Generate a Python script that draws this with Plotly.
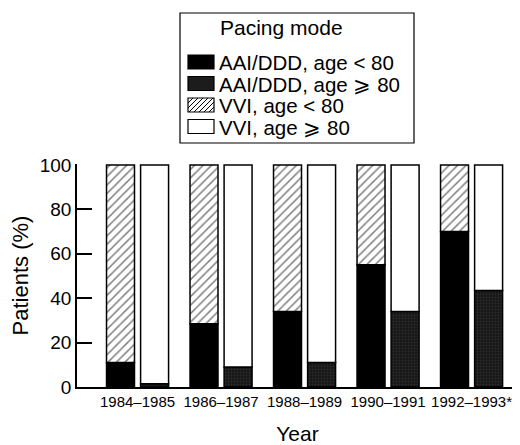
import plotly.graph_objects as go

years = ["1984–1985", "1986–1987", "1988–1989", "1990–1991", "1992–1993*"]
aai_under80 = [11, 28.5, 34, 55, 70]
aai_over80 = [1.5, 9, 11, 34, 43.5]
vvi_under80 = [100 - v for v in aai_under80]
vvi_over80 = [100 - v for v in aai_over80]
y_ticks = [0, 20, 40, 60, 80, 100]

legend_title = "Pacing mode"
legend_labels = ["AAI/DDD, age < 80", "AAI/DDD, age ⩾ 80", "VVI, age < 80", "VVI, age ⩾ 80"]

FONT = "Liberation Sans, Arial, sans-serif"
idx = list(range(len(years)))
W = 0.335
OFF = 0.204
line = dict(color="black", width=1.5)

fig = go.Figure()
fig.add_trace(go.Bar(x=idx, y=aai_under80, width=W, offset=-OFF - W / 2,
                     marker=dict(color="black", line=line)))
fig.add_trace(go.Bar(x=idx, y=vvi_under80, base=aai_under80, width=W, offset=-OFF - W / 2,
                     marker=dict(color="white", line=line,
                                 pattern=dict(shape="/", fgcolor="black", bgcolor="white",
                                              size=6, solidity=0.25))))
fig.add_trace(go.Bar(x=idx, y=aai_over80, width=W, offset=OFF - W / 2,
                     marker=dict(color="#1c1c1c", line=line,
                                 pattern=dict(shape=".", fgcolor="#454545", bgcolor="#161616",
                                              size=3, solidity=0.3))))
fig.add_trace(go.Bar(x=idx, y=vvi_over80, base=aai_over80, width=W, offset=OFF - W / 2,
                     marker=dict(color="white", line=line)))

# page has an 8px body margin; work in screen pixels and convert
OFFS = 8
FW, FH = 512, 437
ML, MT = 77 - OFFS, 164 - OFFS
MB = FH - (387 - OFFS)
MR = FW - (518 - OFFS)
PW, PH = FW - ML - MR, FH - MT - MB


def px(x):
    return (x - OFFS - ML) / PW


def py(y):
    return (FH - MB - (y - OFFS)) / PH


shapes = []
annotations = []
shapes.append(dict(type="rect", xref="paper", yref="paper", x0=px(180), x1=px(414),
                   y0=py(143), y1=py(13), line=dict(color="black", width=1.2), fillcolor="white"))
annotations.append(dict(text=legend_title, xref="paper", yref="paper", x=px(281), y=py(27),
                        showarrow=False, xanchor="center", yanchor="middle",
                        font=dict(family=FONT, size=21, color="black")))
row_y = [62, 83.5, 105, 126.5]
sw_fill = ["black", "#1c1c1c", "white", "white"]
for i, (lab, ry) in enumerate(zip(legend_labels, row_y)):
    shapes.append(dict(type="rect", xref="paper", yref="paper", x0=px(188), x1=px(214),
                       y0=py(ry + 7), y1=py(ry - 7), fillcolor=sw_fill[i],
                       line=dict(color="black", width=1.2)))
    annotations.append(dict(text=lab, xref="paper", yref="paper", x=px(218), y=py(ry + 0.5),
                            showarrow=False, xanchor="left", yanchor="middle", borderpad=0,
                            font=dict(family=FONT, size=20.5, color="black")))
# hatch lines for VVI < 80 swatch
y0s, y1s = row_y[2] + 7, row_y[2] - 7
for k in range(-14, 27, 5):
    xa, xb = 188 + k, 188 + k + 14
    ya, yb = y0s, y1s
    if xa < 188:
        ya = y0s - (188 - xa)
        xa = 188
    if xb > 214:
        yb = y1s + (xb - 214)
        xb = 214
    if xa < xb:
        shapes.append(dict(type="line", xref="paper", yref="paper", x0=px(xa), y0=py(ya),
                           x1=px(xb), y1=py(yb), line=dict(color="black", width=1)))

fig.update_layout(
    width=FW, height=FH,
    margin=dict(l=ML, r=MR, t=MT, b=MB),
    barmode="overlay",
    showlegend=False,
    plot_bgcolor="white", paper_bgcolor="white",
    font=dict(family=FONT, color="black"),
    shapes=shapes, annotations=annotations,
    xaxis=dict(range=[-0.725, 4.556], tickmode="array", tickvals=idx, ticktext=years,
               showline=True, linecolor="black", linewidth=1.5, ticks="", showgrid=False,
               zeroline=False, tickfont=dict(size=15, family=FONT), automargin=False,
               title=dict(text="Year", font=dict(size=21, family=FONT), standoff=20)),
    yaxis=dict(range=[0, 100.4], tickmode="array", tickvals=y_ticks,
               showline=True, linecolor="black", linewidth=1.5, ticks="inside", ticklen=15,
               tickwidth=1.5, tickcolor="black", showgrid=False, zeroline=False,
               tickfont=dict(size=19, family=FONT), automargin=False,
               title=dict(text="Patients (%)", font=dict(size=22, family=FONT), standoff=10)),
)

fig.write_html("out.html")
